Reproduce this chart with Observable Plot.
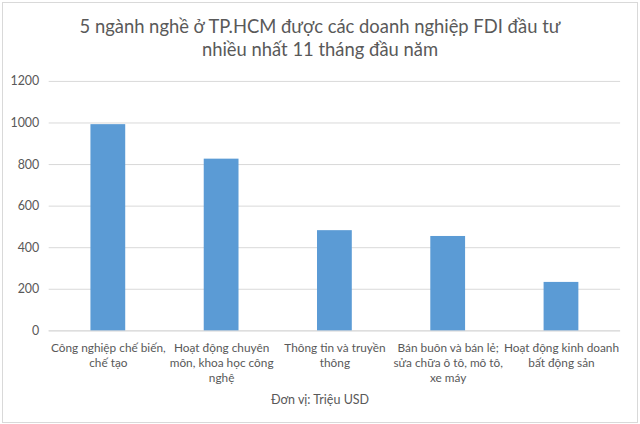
<!DOCTYPE html>
<html><head><meta charset="utf-8">
<script src="https://cdn.jsdelivr.net/npm/d3@7"></script>
<script src="https://cdn.jsdelivr.net/npm/@observablehq/plot@0.6"></script>
<style>
html,body{margin:0;padding:0;background:#fff;}
#wrap{position:relative;width:636px;height:421px;margin:2px 0 0 2px;border:1px solid #d9d9d9;box-sizing:border-box;font-family:Lato, "Open Sans", sans-serif;color:#595959;overflow:hidden;}
#title{position:absolute;left:0;top:12px;width:100%;text-align:center;font-size:18.4px;line-height:23px;color:#595959;}
#chart{position:absolute;left:-2px;top:64px;}
#cap{position:absolute;left:0;top:389px;width:100%;text-align:center;font-size:12.5px;color:#595959;}
</style></head>
<body>
<div id="wrap">
<div id="title">5 ngành nghề ở TP.HCM được các doanh nghiệp FDI đầu tư<br>nhiều nhất 11 tháng đầu năm</div>
<div id="chart"></div>
<div id="cap">Đơn vị: Triệu USD</div>
</div>
<script>
const categories = ["Công nghiệp chế biến, chế tạo","Hoạt động chuyên môn, khoa học công nghệ","Thông tin và truyền thông","Bán buôn và bán lẻ; sửa chữa ô tô, mô tô, xe máy","Hoạt động kinh doanh bất động sản"];
const tickLabels = ["Công nghiệp chế biến,\nchế tạo","Hoạt động chuyên\nmôn, khoa học công\nnghệ","Thông tin và truyền\nthông","Bán buôn và bán lẻ;\nsửa chữa ô tô, mô tô,\nxe máy","Hoạt động kinh doanh\nbất động sản"];
const values = [992, 826, 482, 454, 233];
const yTicks = [0,200,400,600,800,1000,1200];

const data = categories.map((c,i)=>({cat:c, value:values[i]}));
const labelOf = new Map(categories.map((c,i)=>[c, tickLabels[i]]));

const chart = Plot.plot({
  width: 640, height: 330,
  marginLeft: 48, marginRight: 17, marginTop: 14, marginBottom: 65,
  style: {fontFamily: "Lato, 'Open Sans', sans-serif", fontSize: "12.5px", color: "#595959", background: "transparent"},
  x: {domain: categories, paddingInner: 0.695, paddingOuter: 0.348, label: null},
  y: {domain: [0,1200], label: null},
  marks: [
    Plot.gridY(yTicks, {stroke: "#d9d9d9", strokeOpacity: 1, strokeWidth: 1}),
    Plot.ruleY([0], {stroke: "#d9d9d9"}),
    Plot.barY(data, {x: "cat", y: "value", fill: "#5b9bd5"}),
    Plot.axisY({ticks: yTicks, tickFormat: d => String(d), tickSize: 0, tickPadding: 10, label: null, fill: "#595959", fontSize: 12.5}),
    Plot.axisX({tickSize: 0, tickPadding: 10, label: null, tickFormat: d => labelOf.get(d), lineHeight: 1.3, fill: "#595959", fontSize: 11.9})
  ]
});
document.getElementById("chart").appendChild(chart);
</script>
</body></html>
